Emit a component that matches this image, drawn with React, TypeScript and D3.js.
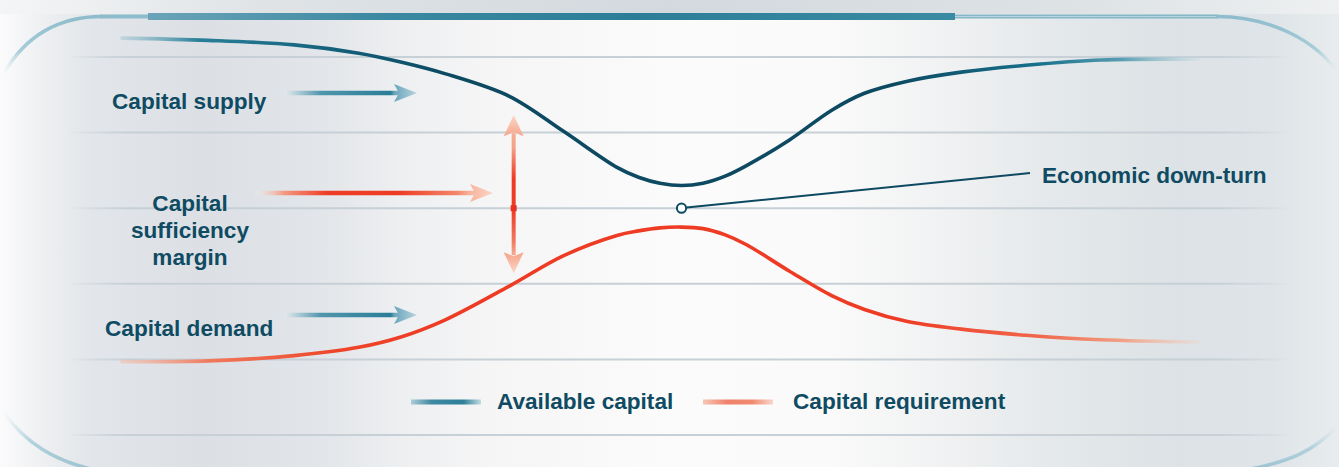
import React from 'react';
import * as d3 from 'd3';

const W = 1339;
const H = 467;

// Time (0-100) and capital level (0-5)
const timeSteps = [0, 8, 16, 22, 26, 30, 36, 41, 46, 48, 50, 52, 54, 56, 58, 62, 66, 69, 73, 78, 84, 91, 100];
const availableCapital = [5.25, 5.22, 5.16, 5.05, 4.93, 4.78, 4.48, 4.02, 3.54, 3.41, 3.33, 3.3, 3.33, 3.42, 3.56, 3.9, 4.3, 4.52, 4.68, 4.8, 4.89, 4.96, 4.97];
const capitalRequirement = [0.97, 0.98, 1.05, 1.16, 1.3, 1.52, 1.97, 2.37, 2.64, 2.7, 2.74, 2.75, 2.73, 2.65, 2.52, 2.17, 1.84, 1.66, 1.5, 1.4, 1.32, 1.26, 1.23];
const gridLevels = [0, 1, 2, 3, 4, 5];
const downturnPoint = [52, 3];
const marginArrowT = 36.4;
const marginArrowLevels = [2.14, 4.23];
const sideLabels = ['Capital supply', 'Capital sufficiency margin', 'Capital demand'];
const annotationLabel = 'Economic down-turn';
const legendLabels = ['Available capital', 'Capital requirement'];

const TEXT = '#0f4b62';
const FONT = '"Liberation Sans", Arial, Helvetica, sans-serif';

export default function App() {
  const x = d3.scaleLinear().domain([0, 100]).range([122, 1198]);
  const y = d3.scaleLinear().domain([0, 5]).range([435, 57]);

  const line = d3
    .line<number>()
    .x((_, i) => x(timeSteps[i]))
    .y((d) => y(d))
    .curve(d3.curveCatmullRom.alpha(0.5));

  const availPath = line(availableCapital) || '';
  const reqPath = line(capitalRequirement) || '';

  const mx = x(marginArrowT);
  const mTop = y(marginArrowLevels[1]);
  const mBot = y(marginArrowLevels[0]);
  const dX = x(downturnPoint[0]);
  const dY = y(downturnPoint[1]);

  const hArrow = (x0: number, xt: number, yy: number, grad: string) => {
    const xb = xt - 21;
    return (
      <g>
        <line x1={x0} x2={xb + 3} y1={yy} y2={yy} stroke={`url(#${grad})`} strokeWidth={4.5} />
        <path
          d={`M${xt},${yy} L${xb - 2},${yy - 9} L${xb + 3},${yy} L${xb - 2},${yy + 9} Z`}
          fill={`url(#${grad})`}
        />
      </g>
    );
  };

  const textStyle: React.CSSProperties = {
    fontFamily: FONT,
    fontWeight: 700,
    fontSize: 22.6,
    fill: TEXT,
  };

  return (
    <div style={{ position: 'absolute', left: 0, top: 0 }}>
      <svg width={W} height={H} viewBox={`0 0 ${W} ${H}`} style={{ display: 'block' }}>
        <defs>
          <linearGradient id="bg" x1="0" x2="1" y1="0" y2="0">
            <stop offset="0" stopColor="#fbfbfc" />
            <stop offset="0.03" stopColor="#eef0f2" />
            <stop offset="0.07" stopColor="#e2e5e9" />
            <stop offset="0.15" stopColor="#dce0e5" />
            <stop offset="0.23" stopColor="#e1e4e8" />
            <stop offset="0.3" stopColor="#edeff1" />
            <stop offset="0.36" stopColor="#f5f5f6" />
            <stop offset="0.5" stopColor="#fbfbfb" />
            <stop offset="0.62" stopColor="#fafafa" />
            <stop offset="0.7" stopColor="#f1f2f3" />
            <stop offset="0.78" stopColor="#e5e9eb" />
            <stop offset="0.88" stopColor="#dce2e5" />
            <stop offset="0.95" stopColor="#dee4e7" />
            <stop offset="1" stopColor="#e8ecef" />
          </linearGradient>
          <linearGradient id="topShade" x1="0" x2="1" y1="0" y2="0">
            <stop offset="0" stopColor="#f4f5f6" />
            <stop offset="0.2" stopColor="#dfe3e6" />
            <stop offset="0.5" stopColor="#d3d9de" />
            <stop offset="0.8" stopColor="#dde2e5" />
            <stop offset="1" stopColor="#eef0f1" />
          </linearGradient>
          <linearGradient id="band" gradientUnits="userSpaceOnUse" x1="148" x2="955" y1="0" y2="0">
            <stop offset="0" stopColor="#6ba4b8" />
            <stop offset="0.3" stopColor="#3a88a1" />
            <stop offset="0.6" stopColor="#2c7e98" />
            <stop offset="1" stopColor="#3a8aa3" />
          </linearGradient>
          <linearGradient id="gridGrad" gradientUnits="userSpaceOnUse" x1="66" x2="1292" y1="0" y2="0">
            <stop offset="0" stopColor="#c6d0d6" stopOpacity="0" />
            <stop offset="0.05" stopColor="#c6d0d6" stopOpacity="1" />
            <stop offset="0.94" stopColor="#c6d0d6" stopOpacity="1" />
            <stop offset="1" stopColor="#c6d0d6" stopOpacity="0" />
          </linearGradient>
          <linearGradient id="availGrad" gradientUnits="userSpaceOnUse" x1="122" x2="1198" y1="0" y2="0">
            <stop offset="0" stopColor="#a9cad6" stopOpacity="0.6" />
            <stop offset="0.07" stopColor="#2a7f99" />
            <stop offset="0.2" stopColor="#13607a" />
            <stop offset="0.3" stopColor="#0d4a62" />
            <stop offset="0.72" stopColor="#0d4a62" />
            <stop offset="0.85" stopColor="#17708c" />
            <stop offset="0.93" stopColor="#5a9db3" />
            <stop offset="1" stopColor="#c9dde4" stopOpacity="0.5" />
          </linearGradient>
          <linearGradient id="reqGrad" gradientUnits="userSpaceOnUse" x1="122" x2="1198" y1="0" y2="0">
            <stop offset="0" stopColor="#f2c0ae" stopOpacity="0.6" />
            <stop offset="0.08" stopColor="#f07a5e" />
            <stop offset="0.2" stopColor="#ee4529" />
            <stop offset="0.3" stopColor="#ee3b24" />
            <stop offset="0.72" stopColor="#ee3b24" />
            <stop offset="0.85" stopColor="#f0664a" />
            <stop offset="0.93" stopColor="#f1a086" />
            <stop offset="1" stopColor="#efd6cc" stopOpacity="0.5" />
          </linearGradient>
          <linearGradient id="supplyArrow" gradientUnits="userSpaceOnUse" x1="285" x2="417" y1="0" y2="0">
            <stop offset="0" stopColor="#e3eaee" />
            <stop offset="0.27" stopColor="#5196ad" />
            <stop offset="0.8" stopColor="#2a7d97" />
            <stop offset="0.83" stopColor="#6ba6bb" />
            <stop offset="1" stopColor="#b8d4de" />
          </linearGradient>
          <linearGradient id="demandArrow" gradientUnits="userSpaceOnUse" x1="285" x2="417" y1="0" y2="0">
            <stop offset="0" stopColor="#e3eaee" />
            <stop offset="0.27" stopColor="#5196ad" />
            <stop offset="0.8" stopColor="#2a7d97" />
            <stop offset="0.83" stopColor="#6ba6bb" />
            <stop offset="1" stopColor="#b8d4de" />
          </linearGradient>
          <linearGradient id="marginArrow" gradientUnits="userSpaceOnUse" x1="255" x2="493" y1="0" y2="0">
            <stop offset="0" stopColor="#eef0f0" stopOpacity="0.3" />
            <stop offset="0.12" stopColor="#f39a82" />
            <stop offset="0.3" stopColor="#ee3d26" />
            <stop offset="0.6" stopColor="#ee3b24" />
            <stop offset="0.85" stopColor="#f3866c" />
            <stop offset="0.9" stopColor="#f7b39c" />
            <stop offset="1" stopColor="#fbd5c7" />
          </linearGradient>
          <linearGradient id="vArrow" gradientUnits="userSpaceOnUse" x1="0" x2="0" y1={mTop} y2={mBot}>
            <stop offset="0" stopColor="#fcd5c6" />
            <stop offset="0.13" stopColor="#f6a88f" />
            <stop offset="0.2" stopColor="#f5a38a" />
            <stop offset="0.4" stopColor="#ee3b24" />
            <stop offset="0.6" stopColor="#ee3b24" />
            <stop offset="0.8" stopColor="#f07a60" />
            <stop offset="0.88" stopColor="#f6a88f" />
            <stop offset="1" stopColor="#fcd5c6" />
          </linearGradient>
          <linearGradient id="legTeal" gradientUnits="userSpaceOnUse" x1="410" x2="481" y1="0" y2="0">
            <stop offset="0" stopColor="#b3d0db" />
            <stop offset="0.3" stopColor="#3f89a2" />
            <stop offset="0.75" stopColor="#2e7f99" />
            <stop offset="1" stopColor="#c4dbe3" />
          </linearGradient>
          <linearGradient id="legRed" gradientUnits="userSpaceOnUse" x1="703" x2="773" y1="0" y2="0">
            <stop offset="0" stopColor="#f6c6b5" />
            <stop offset="0.35" stopColor="#f0806a" />
            <stop offset="0.7" stopColor="#f08a6f" />
            <stop offset="1" stopColor="#f9d6ca" />
          </linearGradient>
          <linearGradient id="cornerTop" x1="0" x2="0" y1="0" y2="1">
            <stop offset="0" stopColor="#8ebccc" />
            <stop offset="0.6" stopColor="#a9cdd9" />
            <stop offset="1" stopColor="#d8e6ec" stopOpacity="0" />
          </linearGradient>
          <linearGradient id="cornerBot" x1="0" x2="0" y1="0" y2="1">
            <stop offset="0" stopColor="#d8e6ec" stopOpacity="0" />
            <stop offset="0.5" stopColor="#b3d1dc" />
            <stop offset="1" stopColor="#9cc3d1" />
          </linearGradient>
        </defs>

        {/* background */}
        <rect x={0} y={0} width={W} height={H} fill="url(#bg)" />
        <rect x={0} y={0} width={W} height={14} fill="url(#topShade)" />

        {/* frame */}
        <line x1={100} x2={150} y1={16.5} y2={16.5} stroke="#8dbccd" strokeWidth={4} />
        <line x1={955} x2={1218} y1={16.5} y2={16.5} stroke="#86b7c8" strokeWidth={4} />
        <line x1={955} x2={1218} y1={16.5} y2={16.5} stroke="#b9d6e0" strokeWidth={1} />
        <rect x={148} y={13} width={807} height={7} fill="url(#band)" />
        <path d="M102,16.5 C60,16.5 25,35 4,74" fill="none" stroke="url(#cornerTop)" strokeWidth={3.5} />
        <path d="M1216,16.5 C1270,16.5 1315,40 1337,72" fill="none" stroke="url(#cornerTop)" strokeWidth={3.5} />
        <path d="M4,412 C25,443 55,462 100,471" fill="none" stroke="url(#cornerBot)" strokeWidth={3.5} />
        <path d="M1338,425 C1316,450 1290,462 1245,470" fill="none" stroke="url(#cornerBot)" strokeWidth={3.5} />

        {/* grid */}
        {gridLevels.map((g) => (
          <line key={g} x1={66} x2={1292} y1={y(g)} y2={y(g)} stroke="url(#gridGrad)" strokeWidth={2} />
        ))}

        {/* curves */}
        <path d={availPath} fill="none" stroke="url(#availGrad)" strokeWidth={3.6} strokeLinecap="round" />
        <path d={reqPath} fill="none" stroke="url(#reqGrad)" strokeWidth={3.6} strokeLinecap="round" />

        {/* side arrows */}
        {hArrow(285, 417, 93, 'supplyArrow')}
        {hArrow(285, 417, 315, 'demandArrow')}
        {hArrow(255, 493, 193, 'marginArrow')}

        {/* vertical margin arrow */}
        <g>
          <line x1={mx} x2={mx} y1={mTop + 18} y2={mBot - 18} stroke="url(#vArrow)" strokeWidth={4} />
          <path
            d={`M${mx},${mTop} L${mx - 10},${mTop + 21} L${mx},${mTop + 17} L${mx + 10},${mTop + 21} Z`}
            fill="url(#vArrow)"
          />
          <path
            d={`M${mx},${mBot} L${mx - 10},${mBot - 21} L${mx},${mBot - 17} L${mx + 10},${mBot - 21} Z`}
            fill="url(#vArrow)"
          />
          <rect x={mx - 3} y={y(3) - 3} width={6} height={6} fill="#e8321f" />
        </g>

        {/* downturn annotation */}
        <line x1={dX + 5} y1={dY - 0.6} x2={1030} y2={173} stroke="#0d4a62" strokeWidth={2} />
        <circle cx={dX} cy={dY} r={4.6} fill="#ffffff" stroke="#0d4a62" strokeWidth={2} />

        {/* labels */}
        <text x={112} y={109} style={textStyle}>
          {sideLabels[0]}
        </text>
        <text x={190} y={211} textAnchor="middle" style={textStyle}>
          {sideLabels[1].split(' ').map((w, i) => (
            <tspan key={i} x={190} dy={i === 0 ? 0 : 27}>
              {w}
            </tspan>
          ))}
        </text>
        <text x={105} y={336} style={textStyle}>
          {sideLabels[2]}
        </text>
        <text x={1042} y={183} style={textStyle}>
          {annotationLabel}
        </text>

        {/* legend */}
        <line x1={411} x2={481} y1={402} y2={402} stroke="url(#legTeal)" strokeWidth={5} />
        <text x={497} y={409} style={textStyle}>
          {legendLabels[0]}
        </text>
        <line x1={703} x2={773} y1={402} y2={402} stroke="url(#legRed)" strokeWidth={5} />
        <text x={793} y={409} style={textStyle}>
          {legendLabels[1]}
        </text>
      </svg>
    </div>
  );
}
